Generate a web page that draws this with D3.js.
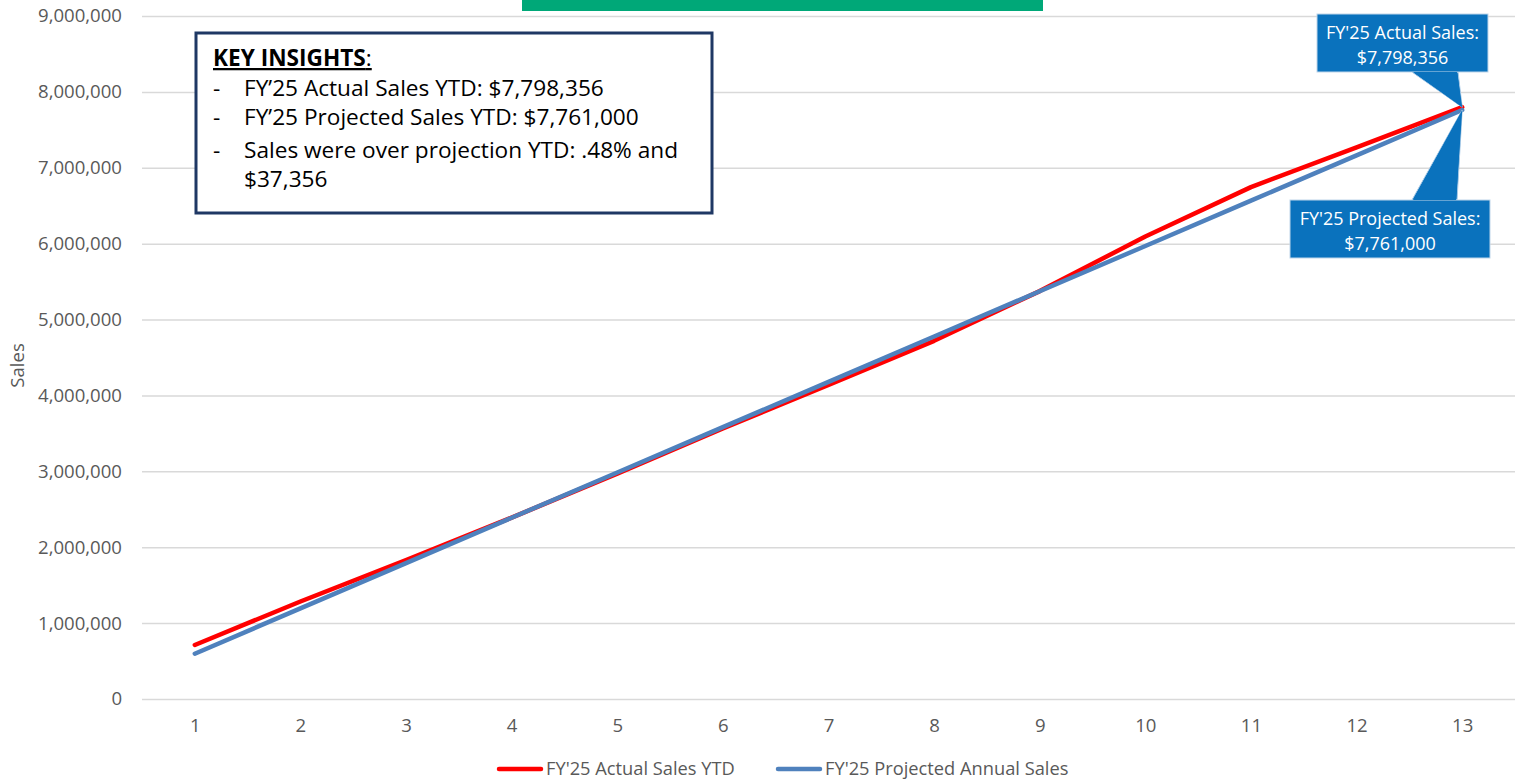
<!DOCTYPE html>
<html>
<head>
<meta charset="utf-8">
<script src="https://cdn.jsdelivr.net/npm/d3@7"></script>
<style>
  html, body { margin: 0; padding: 0; background: #ffffff; }
  svg { display: block; }
  text { font-family: "Open Sans", Lato, "Liberation Sans", sans-serif; }
</style>
</head>
<body>
<svg id="chart" width="1525" height="779"></svg>
<script>
// ---- data ----
const categories = ["1","2","3","4","5","6","7","8","9","10","11","12","13"];
const actualSales = [712000, 1285000, 1830000, 2390000, 2970000, 3565000, 4140000, 4720000, 5375000, 6095000, 6745000, 7270000, 7798356];
const projectedSales = [597000, 1194000, 1791000, 2388000, 2985000, 3582000, 4179000, 4776000, 5373000, 5970000, 6567000, 7164000, 7761000];
const yTicks = [0, 1000000, 2000000, 3000000, 4000000, 5000000, 6000000, 7000000, 8000000, 9000000];
const seriesNames = ["FY'25 Actual Sales YTD", "FY'25 Projected Annual Sales"];
const yAxisTitle = "Sales";
const insightTitle = "KEY INSIGHTS";
const insightLines = [
  ["-", "FY\u201925 Actual Sales YTD: $7,798,356"],
  ["-", "FY\u201925 Projected Sales YTD: $7,761,000"],
  ["-", "Sales were over projection YTD: .48% and"],
  ["", "$37,356"]
];
const calloutActual = ["FY'25 Actual Sales:", "$7,798,356"];
const calloutProjected = ["FY'25 Projected Sales:", "$7,761,000"];

// ---- layout ----
const svg = d3.select("#chart");
const plot = { left: 142, right: 1515, top: 16, bottom: 699 };
const colors = { actual: "#FF0000", projected: "#4F81BD", grid: "#D9D9D9", axisText: "#595959" };

// font size that makes a sample string a given pixel width
function fitSize(sample, targetWidth, weight) {
  const t = svg.append("text").attr("font-size", 100).attr("font-weight", weight || "normal").text(sample);
  const w = t.node().getComputedTextLength();
  t.remove();
  return 100 * targetWidth / w;
}
const axisFont = fitSize("9,000,000", 84);
const kFont = fitSize("FY\u201925 Actual Sales YTD: $7,798,356", 360);
const calloutFont = fitSize("FY'25 Actual Sales:", 153);
const legendFont = fitSize("FY'25 Actual Sales YTD", 189);

const x = d3.scalePoint().domain(categories).range([plot.left, plot.right]).padding(0.5);
const y = d3.scaleLinear().domain([0, 9000000]).range([plot.bottom, plot.top]);

// title banner (cut off at top of the picture)
svg.append("rect").attr("x", 522).attr("y", -40).attr("width", 521).attr("height", 51).attr("fill", "#00A878");

// gridlines + y labels
const yAxis = d3.axisLeft(y).tickValues(yTicks).tickSize(-(plot.right - plot.left)).tickPadding(20)
  .tickFormat(d3.format(","));
const gy = svg.append("g").attr("transform", `translate(${plot.left},0)`).call(yAxis);
gy.select(".domain").remove();
gy.selectAll(".tick line").attr("stroke", colors.grid).attr("stroke-width", 1.5);
gy.selectAll(".tick text").attr("fill", colors.axisText).attr("font-size", axisFont)
  .attr("font-family", "'Open Sans', Lato, sans-serif");

// x axis labels
const xAxis = d3.axisBottom(x).tickSize(0).tickPadding(0);
const gx = svg.append("g").attr("transform", `translate(0,${plot.bottom})`).call(xAxis);
gx.select(".domain").remove();
gx.selectAll(".tick text").attr("fill", colors.axisText).attr("font-size", axisFont)
  .attr("font-family", "'Open Sans', Lato, sans-serif").attr("dy", null).attr("y", 33);

// y axis title
svg.append("text").attr("transform", `translate(24,${(plot.top + plot.bottom) / 2 + 8}) rotate(-90)`)
  .attr("text-anchor", "middle").attr("fill", colors.axisText).attr("font-size", axisFont).text(yAxisTitle);

// lines
const line = d3.line().x((d, i) => x(categories[i])).y(d => y(d));
svg.append("path").datum(actualSales).attr("d", line).attr("fill", "none")
  .attr("stroke", colors.actual).attr("stroke-width", 4.5).attr("stroke-linejoin", "round").attr("stroke-linecap", "round");
svg.append("path").datum(projectedSales).attr("d", line).attr("fill", "none")
  .attr("stroke", colors.projected).attr("stroke-width", 4.5).attr("stroke-linejoin", "round").attr("stroke-linecap", "round");

// key insights box
const kb = svg.append("g");
kb.append("rect").attr("x", 196).attr("y", 33).attr("width", 516).attr("height", 180)
  .attr("fill", "#ffffff").attr("stroke", "#1F3864").attr("stroke-width", 3);
const kt = kb.append("text").attr("x", 213).attr("y", 66).attr("fill", "#000000").attr("font-size", kFont);
kt.append("tspan").attr("font-weight", "bold").attr("text-decoration", "underline").text(insightTitle);
kt.append("tspan").attr("text-decoration", "underline").text(":");
const kBaselines = [96, 124.5, 158, 187];
insightLines.forEach((ln, i) => {
  const yy = kBaselines[i];
  kb.append("text").attr("x", 213).attr("y", yy).attr("font-size", kFont).attr("fill", "#000").text(ln[0]);
  kb.append("text").attr("x", 244).attr("y", yy).attr("font-size", kFont).attr("fill", "#000").text(ln[1]);
});

// callouts
const tipX = x(categories[12]);
const tipYa = y(actualSales[12]);
const tipYp = y(projectedSales[12]);
const calloutFill = "#0A72BD";
function callout(box, lines, base, tip) {
  const g = svg.append("g");
  g.append("path")
    .attr("d", `M${base[0][0]},${base[0][1]} L${tip[0]},${tip[1]} L${base[1][0]},${base[1][1]} Z`)
    .attr("fill", calloutFill).attr("stroke", "#A6C8E6").attr("stroke-width", 1);
  g.append("rect").attr("x", box.x).attr("y", box.y).attr("width", box.w).attr("height", box.h)
    .attr("fill", calloutFill).attr("stroke", "#BFD6EA").attr("stroke-width", 1);
  g.append("path")
    .attr("d", `M${base[0][0] + 1},${base[0][1]} L${tip[0]},${tip[1]} L${base[1][0] - 1},${base[1][1]} Z`)
    .attr("fill", calloutFill);
  lines.forEach((t, i) => {
    g.append("text").attr("x", box.x + box.w / 2).attr("y", box.y + 25 + i * 25)
      .attr("text-anchor", "middle").attr("fill", "#ffffff").attr("font-size", calloutFont).text(t);
  });
}
callout({ x: 1317, y: 14, w: 171, h: 58 }, calloutActual,
  [[1412, 72], [1458, 72]], [tipX, tipYa]);
callout({ x: 1290, y: 200, w: 200, h: 58 }, calloutProjected,
  [[1412, 200], [1457, 200]], [tipX, tipYp]);

// legend
const legend = svg.append("g");
const legendItems = [
  { name: seriesNames[0], color: colors.actual, x: 497 },
  { name: seriesNames[1], color: colors.projected, x: 776 }
];
legendItems.forEach(it => {
  legend.append("line").attr("x1", it.x + 2).attr("x2", it.x + 44).attr("y1", 769).attr("y2", 769)
    .attr("stroke", it.color).attr("stroke-width", 4.5).attr("stroke-linecap", "round");
  legend.append("text").attr("x", it.x + 49).attr("y", 775).attr("fill", colors.axisText)
    .attr("font-size", legendFont).text(it.name);
});
</script>
</body>
</html>
